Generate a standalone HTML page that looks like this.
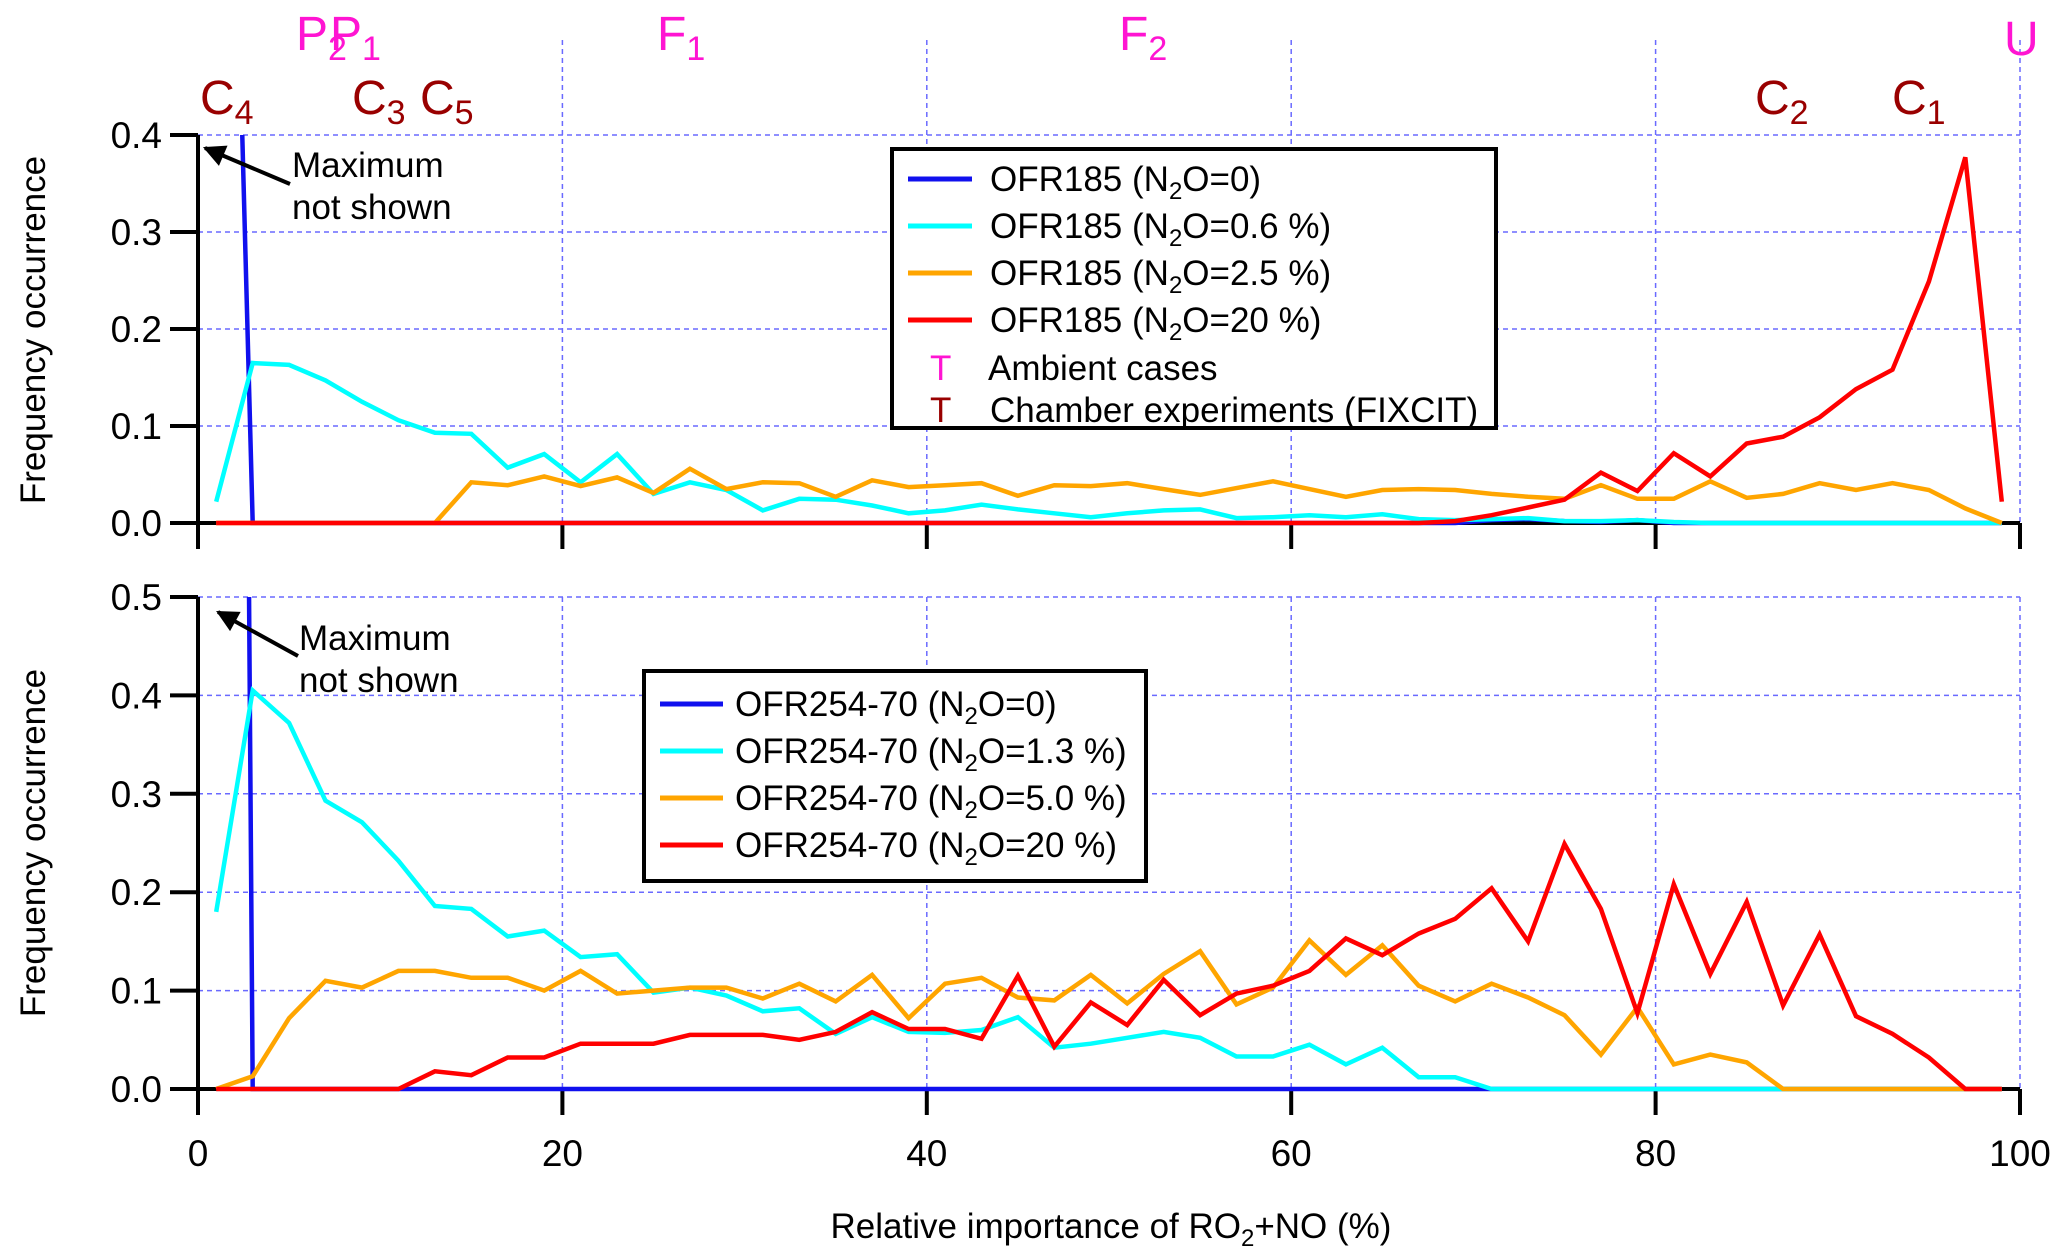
<!DOCTYPE html>
<html><head><meta charset="utf-8"><style>
html,body{margin:0;padding:0;background:#fff;}
svg{display:block;font-family:"Liberation Sans",Arial,sans-serif;}
</style></head><body>
<svg id="chart" width="2060" height="1260" viewBox="0 0 2060 1260" xmlns="http://www.w3.org/2000/svg">
<defs>
<clipPath id="clipTop"><rect x="198" y="135" width="1824" height="392"/></clipPath>
<clipPath id="clipBot"><rect x="198" y="597" width="1824" height="496"/></clipPath>
<marker id="arr" viewBox="0 0 10 10" refX="9" refY="5" markerWidth="30" markerHeight="22" orient="auto-start-reverse" markerUnits="userSpaceOnUse"><path d="M0,0 L10,5 L0,10 z" fill="#000"/></marker>
</defs>
<g id="gTop"></g>
<g id="gBot"></g>

<g font-size="48">
<text x="296" y="50" fill="#ff14d2">P<tspan font-size="34" dy="10">2</tspan></text>
<text x="330" y="50" fill="#ff14d2">P<tspan font-size="34" dy="10">1</tspan></text>
<text x="657" y="50" fill="#ff14d2">F<tspan font-size="34" dy="10">1</tspan></text>
<text x="1119" y="50" fill="#ff14d2">F<tspan font-size="34" dy="10">2</tspan></text>
<text x="2004" y="55" fill="#ff14d2">U</text>
<text x="200" y="114" fill="#990000">C<tspan font-size="34" dy="10">4</tspan></text>
<text x="352" y="114" fill="#990000">C<tspan font-size="34" dy="10">3</tspan></text>
<text x="420" y="114" fill="#990000">C<tspan font-size="34" dy="10">5</tspan></text>
<text x="1755" y="114" fill="#990000">C<tspan font-size="34" dy="10">2</tspan></text>
<text x="1892" y="114" fill="#990000">C<tspan font-size="34" dy="10">1</tspan></text>
</g>

<g font-size="35">
<line x1="290" y1="184" x2="205" y2="148" stroke="#000" stroke-width="4" marker-end="url(#arr)"/>
<text x="292" y="177">Maximum</text><text x="292" y="219">not shown</text>
</g>
<g font-size="35">
<line x1="298" y1="656" x2="218" y2="612" stroke="#000" stroke-width="4" marker-end="url(#arr)"/>
<text x="299" y="650">Maximum</text><text x="299" y="692">not shown</text>
</g>

<g font-size="35">
<rect x="892" y="149" width="604" height="279" fill="#fff" stroke="#000" stroke-width="4"/>
<line x1="908" y1="179" x2="972" y2="179" stroke="#1010ee" stroke-width="5"/><text x="990" y="191">OFR185 (N<tspan font-size="24" dy="8">2</tspan><tspan dy="-8">O=0)</tspan></text>
<line x1="908" y1="226" x2="972" y2="226" stroke="#00ffff" stroke-width="5"/><text x="990" y="238">OFR185 (N<tspan font-size="24" dy="8">2</tspan><tspan dy="-8">O=0.6 %)</tspan></text>
<line x1="908" y1="273" x2="972" y2="273" stroke="#ffa500" stroke-width="5"/><text x="990" y="285">OFR185 (N<tspan font-size="24" dy="8">2</tspan><tspan dy="-8">O=2.5 %)</tspan></text>
<line x1="908" y1="320" x2="972" y2="320" stroke="#ff0000" stroke-width="5"/><text x="990" y="332">OFR185 (N<tspan font-size="24" dy="8">2</tspan><tspan dy="-8">O=20 %)</tspan></text>
<text x="930" y="380" fill="#ff14d2">T</text><text x="988" y="380">Ambient cases</text>
<text x="930" y="422" fill="#990000">T</text><text x="990" y="422">Chamber experiments (FIXCIT)</text>
</g>
<g font-size="35">
<rect x="644" y="671" width="502" height="210" fill="#fff" stroke="#000" stroke-width="4"/>
<line x1="660" y1="704" x2="723" y2="704" stroke="#1010ee" stroke-width="5"/><text x="735" y="716">OFR254-70 (N<tspan font-size="24" dy="8">2</tspan><tspan dy="-8">O=0)</tspan></text>
<line x1="660" y1="751" x2="723" y2="751" stroke="#00ffff" stroke-width="5"/><text x="735" y="763">OFR254-70 (N<tspan font-size="24" dy="8">2</tspan><tspan dy="-8">O=1.3 %)</tspan></text>
<line x1="660" y1="798" x2="723" y2="798" stroke="#ffa500" stroke-width="5"/><text x="735" y="810">OFR254-70 (N<tspan font-size="24" dy="8">2</tspan><tspan dy="-8">O=5.0 %)</tspan></text>
<line x1="660" y1="845" x2="723" y2="845" stroke="#ff0000" stroke-width="5"/><text x="735" y="857">OFR254-70 (N<tspan font-size="24" dy="8">2</tspan><tspan dy="-8">O=20 %)</tspan></text>
</g>

<text x="33" y="330" font-size="35" text-anchor="middle" transform="rotate(-90 33 330)" dy="12">Frequency occurrence</text>
<text x="33" y="843" font-size="35" text-anchor="middle" transform="rotate(-90 33 843)" dy="12">Frequency occurrence</text>
<text x="1111" y="1238" font-size="35" text-anchor="middle">Relative importance of RO<tspan font-size="24" dy="8">2</tspan><tspan dy="-8">+NO (%)</tspan></text>
</svg>
<script>
const xs = [1,3,5,7,9,11,13,15,17,19,21,23,25,27,29,31,33,35,37,39,41,43,45,47,49,51,53,55,57,59,61,63,65,67,69,71,73,75,77,79,81,83,85,87,89,91,93,95,97,99];
const xTicks = [0,20,40,60,80,100];
const yTicksTop = [0.0,0.1,0.2,0.3,0.4];
const yTicksBot = [0.0,0.1,0.2,0.3,0.4,0.5];
const topBlue = [1.4,0,0,0,0,0,0,0,0,0,0,0,0,0,0,0,0,0,0,0,0,0,0,0,0,0,0,0,0,0,0,0,0,0,0,0.003,0.004,0.002,0.001,0.003,0,0,0,0,0,0,0,0,0,0];
const topCyan = [0.022,0.165,0.163,0.147,0.125,0.106,0.093,0.092,0.057,0.071,0.042,0.071,0.030,0.042,0.034,0.013,0.025,0.024,0.018,0.010,0.013,0.019,0.014,0.010,0.006,0.010,0.013,0.014,0.005,0.006,0.008,0.006,0.009,0.004,0.003,0.004,0.005,0.002,0.002,0.003,0.001,0,0,0,0,0,0,0,0,0];
const topOrange = [0,0,0,0,0,0,0,0.042,0.039,0.048,0.038,0.047,0.031,0.056,0.035,0.042,0.041,0.027,0.044,0.037,0.039,0.041,0.028,0.039,0.038,0.041,0.035,0.029,0.036,0.043,0.035,0.027,0.034,0.035,0.034,0.030,0.027,0.025,0.039,0.025,0.025,0.043,0.026,0.030,0.041,0.034,0.041,0.034,0.015,0];
const topRed = [0,0,0,0,0,0,0,0,0,0,0,0,0,0,0,0,0,0,0,0,0,0,0,0,0,0,0,0,0,0,0,0,0,0,0.002,0.008,0.016,0.024,0.052,0.033,0.072,0.048,0.082,0.089,0.109,0.138,0.158,0.249,0.377,0.022];
const botBlue = [5,0,0,0,0,0,0,0,0,0,0,0,0,0,0,0,0,0,0,0,0,0,0,0,0,0,0,0,0,0,0,0,0,0,0,0,0,0,0,0,0,0,0,0,0,0,0,0,0,0];
const botCyan = [0.18,0.405,0.372,0.293,0.271,0.232,0.186,0.183,0.155,0.161,0.134,0.137,0.098,0.103,0.095,0.079,0.082,0.056,0.073,0.058,0.057,0.060,0.073,0.042,0.046,0.052,0.058,0.052,0.033,0.033,0.045,0.025,0.042,0.012,0.012,0,0,0,0,0,0,0,0,0,0,0,0,0,0,0];
const botOrange = [0,0.013,0.072,0.110,0.103,0.120,0.120,0.113,0.113,0.100,0.120,0.097,0.100,0.103,0.103,0.092,0.107,0.089,0.116,0.072,0.107,0.113,0.093,0.090,0.116,0.087,0.117,0.140,0.086,0.103,0.151,0.116,0.146,0.105,0.089,0.107,0.093,0.075,0.035,0.083,0.025,0.035,0.027,0,0,0,0,0,0,0];
const botRed = [0,0,0,0,0,0,0.018,0.014,0.032,0.032,0.046,0.046,0.046,0.055,0.055,0.055,0.050,0.058,0.078,0.061,0.061,0.051,0.115,0.043,0.088,0.065,0.111,0.075,0.097,0.105,0.120,0.153,0.136,0.158,0.173,0.204,0.150,0.249,0.183,0.077,0.208,0.117,0.190,0.085,0.157,0.074,0.056,0.032,0,0];

const NS='http://www.w3.org/2000/svg';
const X0=198, X1=2020;
const xS = v => X0 + (X1-X0)*v/100;
function mk(tag, parent, attrs){const e=document.createElementNS(NS,tag);for(const k in attrs)e.setAttribute(k,attrs[k]);parent.appendChild(e);return e;}

function panel(g, y0px, ymaxpx, ymax, yTicks, series, clip, xlabels, gridTop){
  const yS = v => y0px - (y0px-ymaxpx)*v/ymax;
  yTicks.forEach(t=>{ if(t>0){const l=mk('line',g,{x1:X0,x2:X1,y1:yS(t),y2:yS(t),stroke:'#6a6aff','stroke-width':1.5,'stroke-dasharray':'5,4'});
    
    }});
  xTicks.forEach(t=>{ if(t>0){const l=mk('line',g,{x1:xS(t),x2:xS(t),y1:gridTop,y2:y0px,stroke:'#6a6aff','stroke-width':1.5,'stroke-dasharray':'5,4'});
    
    }});
  const ya=mk('line',g,{x1:X0,x2:X0,y1:ymaxpx,y2:y0px+26,stroke:'#000','stroke-width':4});
  
  
  const xa=mk('line',g,{x1:X0,x2:X1,y1:y0px,y2:y0px,stroke:'#000','stroke-width':4});
  
  
  yTicks.forEach(t=>{
    const l=mk('line',g,{x1:X0-28,x2:X0,y1:yS(t),y2:yS(t),stroke:'#000','stroke-width':4});
    
    
    const tx=mk('text',g,{x:X0-36,y:yS(t)+13,'font-size':37,'text-anchor':'end'});
    tx.textContent=t.toFixed(1);
    
    
  });
  xTicks.forEach(t=>{
    const l=mk('line',g,{x1:xS(t),x2:xS(t),y1:y0px,y2:y0px+26,stroke:'#000','stroke-width':4});
    
    
    if(xlabels){const tx=mk('text',g,{x:xS(t),y:y0px+77,'font-size':37,'text-anchor':'middle'});
      tx.textContent=String(t);
      
      }
  });
  series.forEach(s=>{
    const pts=xs.map((x,i)=>xS(x).toFixed(1)+','+yS(s.v[i]).toFixed(1)).join(' ');
    const p=mk('polyline',g,{points:pts,fill:'none',stroke:s.c,'stroke-width':4.5,'stroke-linejoin':'miter','clip-path':'url(#'+clip+')'});
    
    
  });
}
panel(document.getElementById('gTop'),523,135,0.4,yTicksTop,[
  {v:topBlue,c:'#1010ee',n:'line-ofr185-n2o-0'},
  {v:topCyan,c:'#00ffff',n:'line-ofr185-n2o-0.6'},
  {v:topOrange,c:'#ffa500',n:'line-ofr185-n2o-2.5'},
  {v:topRed,c:'#ff0000',n:'line-ofr185-n2o-20'}],'clipTop',false,40);
panel(document.getElementById('gBot'),1089,597,0.5,yTicksBot,[
  {v:botBlue,c:'#1010ee',n:'line-ofr254-n2o-0'},
  {v:botCyan,c:'#00ffff',n:'line-ofr254-n2o-1.3'},
  {v:botOrange,c:'#ffa500',n:'line-ofr254-n2o-5.0'},
  {v:botRed,c:'#ff0000',n:'line-ofr254-n2o-20'}],'clipBot',true,597);
</script>
</body></html>
